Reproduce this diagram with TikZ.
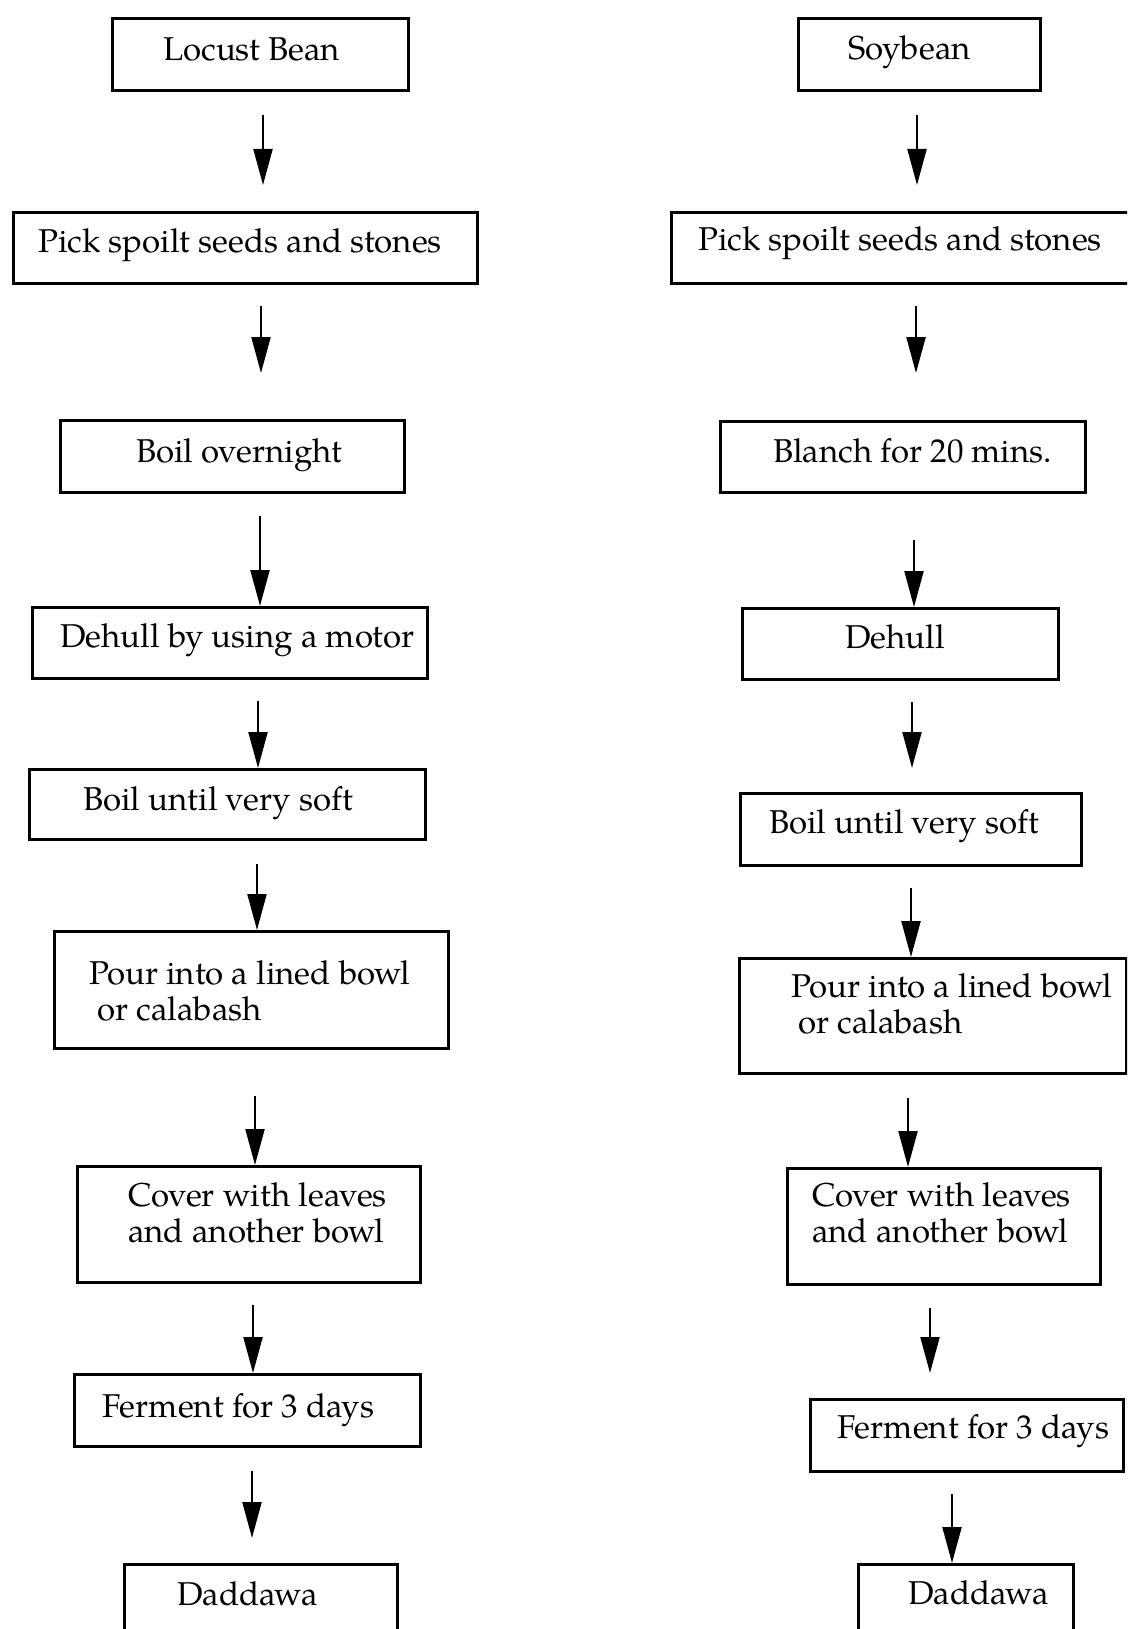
\documentclass[tikz,border=0pt]{standalone}
\usepackage{fontspec}
\setmainfont{TeX Gyre Pagella}
\usetikzlibrary{arrows.meta}
\begin{document}
\begin{tikzpicture}[x=1pt,y=-1pt,
  box/.style={draw, line width=2.6pt, rectangle, inner sep=0pt, anchor=north west},
  txt/.style={anchor=base west, inner sep=0pt, align=left, font=\fontsize{33}{35.5}\selectfont},
  arr/.style={line width=2.2pt, -{Triangle[length=36pt,width=19pt]}}]
\useasboundingbox (0,0) rectangle (1127,1629);
\fill[white] (0,0) rectangle (1127,1629);
\clip (0,0) rectangle (1127,1629);

% ---------------- Locust bean column ----------------
\node[box, minimum width=296pt, minimum height=72pt]  (loc)    at (111,17)   {};
\node[box, minimum width=464pt, minimum height=71pt]  (lpick)  at (12,211)   {};
\node[box, minimum width=344pt, minimum height=72pt]  (lboil)  at (59,419)   {};
\node[box, minimum width=395pt, minimum height=71pt]  (ldeh)   at (31,606)   {};
\node[box, minimum width=396pt, minimum height=70pt]  (lsoft)  at (28,768)   {};
\node[box, minimum width=394pt, minimum height=117pt] (lpour)  at (53,930)   {};
\node[box, minimum width=343pt, minimum height=116pt] (lcover) at (76,1165)  {};
\node[box, minimum width=346pt, minimum height=72pt]  (lferm)  at (73,1373)  {};
\node[box, minimum width=273pt, minimum height=110pt] (ldad)   at (123,1563) {};

% two-line labels are anchored on the baseline of their last line
\node[txt] (locT)    at (163,61)   {Locust Bean};
\node[txt] (lpickT)  at (38,252)   {Pick spoilt seeds and stones};
\node[txt] (lboilT)  at (136,462)  {Boil overnight};
\node[txt] (ldehT)   at (60,647)   {Dehull by using a motor};
\node[txt] (lsoftT)  at (83,810)   {Boil until very soft};
\node[txt] (lpourT)  at (89,1020)  {Pour into a lined bowl\\\hspace*{8pt}or calabash};
\node[txt] (lcoverT) at (128,1242) {Cover with leaves\\and another bowl};
\node[txt] (lfermT)  at (102,1417) {Ferment for 3 days};
\node[txt] (ldadT)   at (177,1605) {Daddawa};

\draw[arr, shorten <=23pt, shorten >=26pt] (263,0 |- loc.south)    -- (263,0 |- lpick.north);
\draw[arr, shorten <=21pt, shorten >=46pt] (261,0 |- lpick.south)  -- (261,0 |- lboil.north);
\draw[arr, shorten <=22pt]                 (260,0 |- lboil.south)  -- (260,0 |- ldeh.north);
\draw[arr, shorten <=21pt]                 (258,0 |- ldeh.south)   -- (258,0 |- lsoft.north);
\draw[arr, shorten <=23pt]                 (257,0 |- lsoft.south)  -- (257,0 |- lpour.north);
\draw[arr, shorten <=46pt]                 (255,0 |- lpour.south)  -- (255,0 |- lcover.north);
\draw[arr, shorten <=21pt]                 (253,0 |- lcover.south) -- (253,0 |- lferm.north);
\draw[arr, shorten <=23pt, shorten >=25pt] (252,0 |- lferm.south)  -- (252,0 |- ldad.north);

% ---------------- Soybean column ----------------
\node[box, minimum width=242pt, minimum height=72pt]  (soy)    at (797,17)   {};
\node[box, minimum width=470pt, minimum height=71pt]  (rpick)  at (670,211)  {};
\node[box, minimum width=365pt, minimum height=71pt]  (rblan)  at (719,420)  {};
\node[box, minimum width=316pt, minimum height=71pt]  (rdeh)   at (741,607)  {};
\node[box, minimum width=341pt, minimum height=72pt]  (rsoft)  at (739,792)  {};
\node[box, minimum width=387pt, minimum height=115pt] (rpour)  at (738,957)  {};
\node[box, minimum width=313pt, minimum height=116pt] (rcover) at (786,1167) {};
\node[box, minimum width=313pt, minimum height=72pt]  (rferm)  at (809,1398) {};
\node[box, minimum width=215pt, minimum height=110pt] (rdad)   at (857,1563) {};

\node[txt] (soyT)    at (848,60)   {Soybean};
\node[txt] (rpickT)  at (698,251)  {Pick spoilt seeds and stones};
\node[txt] (rblanT)  at (773,462)  {Blanch for 20 mins.};
\node[txt] (rdehT)   at (845,648)  {Dehull};
\node[txt] (rsoftT)  at (769,833)  {Boil until very soft};
\node[txt] (rpourT)  at (791,1033) {Pour into a lined bowl\\\hspace*{7pt}or calabash};
\node[txt] (rcoverT) at (812,1242) {Cover with leaves\\and another bowl};
\node[txt] (rfermT)  at (837,1438) {Ferment for 3 days};
\node[txt] (rdadT)   at (908,1604) {Daddawa};

\draw[arr, shorten <=23pt, shorten >=26pt] (917,0 |- soy.south)    -- (917,0 |- rpick.north);
\draw[arr, shorten <=21pt, shorten >=47pt] (916,0 |- rpick.south)  -- (916,0 |- rblan.north);
\draw[arr, shorten <=46pt]                 (914,0 |- rblan.south)  -- (914,0 |- rdeh.north);
\draw[arr, shorten <=21pt, shorten >=24pt] (912,0 |- rdeh.south)   -- (912,0 |- rsoft.north);
\draw[arr, shorten <=21pt]                 (911,0 |- rsoft.south)  -- (911,0 |- rpour.north);
\draw[arr, shorten <=23pt]                 (908,0 |- rpour.south)  -- (908,0 |- rcover.north);
\draw[arr, shorten <=22pt, shorten >=25pt] (930,0 |- rcover.south) -- (930,0 |- rferm.north);
\draw[arr, shorten <=21pt]                 (952,0 |- rferm.south)  -- (952,0 |- rdad.north);
\end{tikzpicture}
\end{document}
